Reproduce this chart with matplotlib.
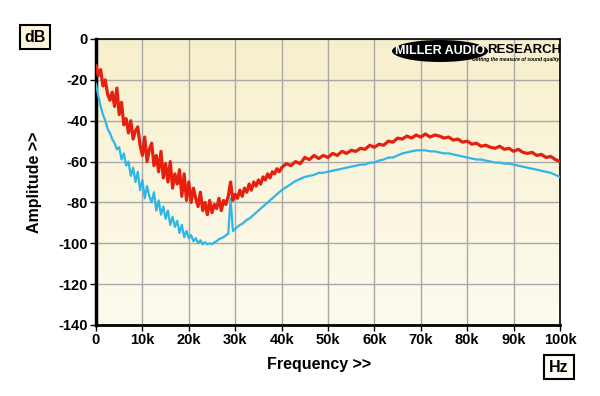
import numpy as np
import matplotlib
matplotlib.use("Agg")
import matplotlib.pyplot as plt
from matplotlib.patches import Ellipse
from matplotlib.colors import LinearSegmentedColormap

plt.rcParams['font.family'] = ['Liberation Sans', 'DejaVu Sans']

# frequency axis (kHz): 0.5 kHz steps up to 40k, 1 kHz steps after
freq_lo = np.arange(0, 40, 0.5)
freq_hi = np.arange(40, 101, 1)
freq = np.concatenate([freq_lo, freq_hi])

# red trace (dB)
red_lo = [-13, -18, -15, -23, -20, -27, -30, -26, -33, -24,
          -37, -31, -42, -39, -46, -40, -49, -45, -43, -52,
          -57, -48, -60, -54, -51, -62, -57, -65, -55, -68,
          -61, -70, -60, -73, -66, -71, -64, -77, -66, -79,
          -70, -80, -73, -78, -82, -75, -84, -80, -86, -79,
          -85, -81, -83, -78, -84, -79, -81, -77, -70, -79,
          -76, -78, -74, -77, -73, -75, -71, -74, -70, -72,
          -69, -71, -67.5, -69, -66, -68, -65, -66, -63.5, -65]
red_hi = [-63, -61, -62, -60, -61, -58, -59, -57, -58.5, -57,
          -58, -56, -57, -55, -56, -54.5, -55, -53.5, -54, -52,
          -53, -51.5, -52, -50, -50.5, -48.5, -49, -47.5, -48.5, -47,
          -48, -46.5, -48, -47, -47.5, -48.5, -48, -49.5, -49, -50.5,
          -50, -51.5, -51, -52.5, -52, -53, -53.5, -52.5, -54, -53.5,
          -55, -54, -55.5, -56, -55.5, -57, -56.5, -58, -57.5, -59,
          -60]

# blue trace (dB)
blue_lo = [-22, -28, -33, -37, -40, -44, -46, -49, -51, -54,
           -53, -59, -56, -62, -60, -67, -63, -70, -65, -74,
           -69, -78, -72, -77, -80, -75, -84, -79, -86, -82,
           -88, -84, -91, -87, -92, -89, -95, -91, -97, -94,
           -97.5, -96, -99, -97.5, -100, -98.5, -100.5, -99.5, -100.5, -100,
           -100.5, -99.5, -99, -98, -97.5, -97, -96, -95.5, -78, -94,
           -93, -92, -91, -90.5, -89.5, -88.5, -88, -87, -86, -85,
           -84, -83, -82, -81, -80, -79, -78, -77, -76, -75]
blue_hi = [-74, -72.5, -71, -69.5, -68.5, -67.5, -67, -66.5, -65.5, -65.5,
           -65, -64.5, -64, -63.5, -63, -62.5, -62, -61.5, -61.5, -60.5,
           -60.5, -59.5, -59, -58, -58, -57, -56, -55.5, -55, -54.5,
           -54.5, -54.5, -55, -55, -55.5, -56, -56, -56.5, -57, -57.5,
           -58, -58.5, -59, -59, -59.5, -60, -60.5, -60.5, -61, -61,
           -61.5, -62, -62.5, -63, -63.5, -64, -64.5, -65, -65.5, -66.5,
           -67.5]

red = np.array(red_lo + red_hi)
blue = np.array(blue_lo + blue_hi)

xticks = list(range(0, 101, 10))
xlabels = ['0'] + [f'{v}k' for v in range(10, 101, 10)]
yticks = list(range(-140, 1, 20))
ylabels = [str(v) for v in yticks]

fig = plt.figure(figsize=(6, 3.96), dpi=100)
ax = fig.add_axes([96 / 600, 1 - 325 / 396, 464 / 600, 286 / 396])

# cream gradient background
cmap = LinearSegmentedColormap.from_list('bg', ['#f7efcc', '#fdfbef'])
grad = np.linspace(0, 1, 256).reshape(-1, 1)
ax.imshow(grad, extent=[0, 100, -140, 0], aspect='auto', cmap=cmap, zorder=0)

ax.plot(freq, blue, color='#2fb6e8', lw=1.6, zorder=3)
ax.plot(freq, red, color='#e5200f', lw=2.3, zorder=4)

ax.set_xlim(0, 100)
ax.set_ylim(-140, 0)
ax.set_xticks(xticks)
ax.set_xticklabels(xlabels)
ax.set_yticks(yticks)
ax.set_yticklabels(ylabels)
ax.grid(True, color='#a8a8a8', lw=1)
ax.tick_params(direction='out', length=4, width=1, labelsize=10.5, pad=2)
for lab in ax.get_xticklabels() + ax.get_yticklabels():
    lab.set_fontweight('bold')
ax.spines['left'].set_linewidth(2.5)
ax.spines['bottom'].set_linewidth(2)
ax.spines['top'].set_linewidth(1.2)
ax.spines['right'].set_linewidth(1.2)

fig.text(319 / 600, 1 - 365 / 396, 'Frequency >>', ha='center', va='center',
         fontsize=11.5, fontweight='bold')
fig.text(34 / 600, 1 - 182 / 396, 'Amplitude >>', ha='center', va='center',
         rotation=90, fontsize=11.5, fontweight='bold')
fig.text(35 / 600, 1 - 37 / 396, 'dB', ha='center', va='center', fontsize=11.5,
         fontweight='bold',
         bbox=dict(boxstyle='square,pad=0.3', facecolor='#fbf6dc', edgecolor='black', lw=1.5))
fig.text(559 / 600, 1 - 367 / 396, 'Hz', ha='center', va='center', fontsize=11.5,
         fontweight='bold',
         bbox=dict(boxstyle='square,pad=0.3', facecolor='#fdfcf5', edgecolor='black', lw=1.5))

# logo
fig.patches.append(Ellipse((440 / 600, 1 - 51 / 396), 96 / 600, 22 / 396,
                           transform=fig.transFigure, facecolor='black', zorder=5))
fig.text(440 / 600, 1 - 51 / 396, 'MILLER AUDIO', ha='center', va='center',
         color='white', fontsize=9, fontweight='heavy', zorder=6)
fig.text(487 / 600, 1 - 50 / 396, 'RESEARCH', ha='left', va='center',
         color='black', fontsize=9.5, fontweight='heavy', zorder=6)
fig.text(559 / 600, 1 - 60 / 396, 'Getting the measure of sound quality',
         ha='right', va='center', color='black', fontsize=3.6,
         fontweight='bold', style='italic', zorder=6)

fig.savefig('out.png', dpi=100, facecolor='white')
